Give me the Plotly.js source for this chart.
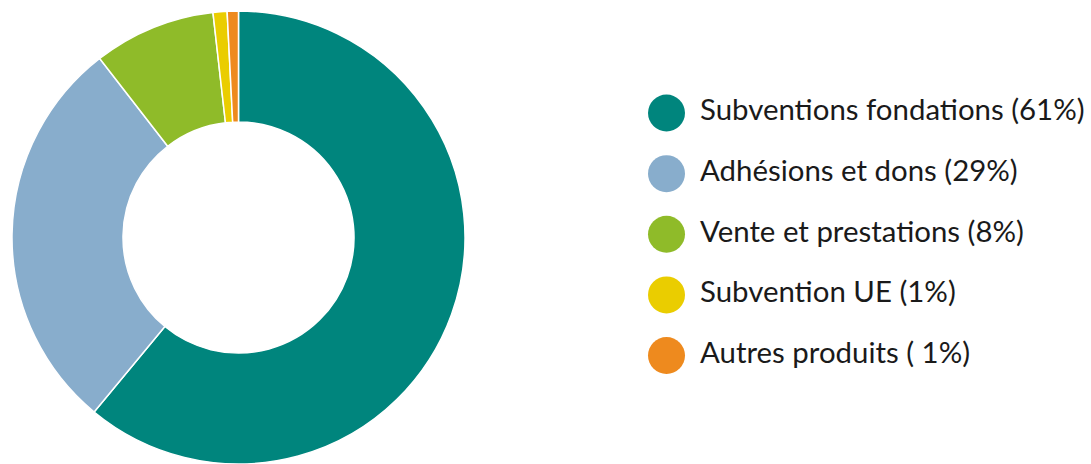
<!DOCTYPE html>
<html>
<head>
<meta charset="utf-8">
<script src="https://cdn.plot.ly/plotly-3.0.1.min.js"></script>
<style>
  html, body { margin: 0; padding: 0; background: #fff; }
  #chart { width: 1091px; height: 464px; }
</style>
</head>
<body>
<div id="chart"></div>
<script>
// Data
var categories = ["Subventions fondations", "Adhésions et dons", "Vente et prestations", "Subvention UE", "Autres produits"];
var values = [61.0, 28.5, 8.7, 1.0, 0.8];
var legendLabels = ["Subventions fondations (61%)", "Adhésions et dons (29%)", "Vente et prestations (8%)", "Subvention UE (1%)", "Autres produits ( 1%)"];
var colors = ["#00857d", "#88adcc", "#8fbb29", "#eacd00", "#ee8a1e"];

var W = 1091, H = 464;
var idx = categories.map(function (_, i) { return i; });

var pie = {
  type: "pie",
  labels: categories,
  values: values,
  sort: false,
  direction: "clockwise",
  rotation: 0,
  hole: 0.51,
  textinfo: "none",
  hoverinfo: "label+percent",
  marker: { colors: colors, line: { color: "#ffffff", width: 1.5 } },
  domain: { x: [12 / W, 465 / W], y: [0, 1] },
  showlegend: false
};

// Custom legend drawn as circle markers + text labels
var legendMarkers = {
  type: "scatter",
  mode: "markers",
  x: idx.map(function () { return 0; }),
  y: idx,
  xaxis: "x",
  yaxis: "y",
  marker: { size: 37, color: colors, line: { width: 0 } },
  hoverinfo: "skip",
  showlegend: false,
  cliponaxis: false
};
var textOffset = 33.5;
var legendText = {
  type: "scatter",
  mode: "text",
  x: idx.map(function () { return textOffset; }),
  y: idx,
  text: legendLabels,
  textposition: "middle right",
  textfont: { family: "Lato, 'Open Sans', sans-serif", size: 29.4, color: "#1a1a1a" },
  xaxis: "x",
  yaxis: "y",
  hoverinfo: "skip",
  showlegend: false,
  cliponaxis: false
};

var layout = {
  width: W,
  height: H,
  margin: { l: 0, r: 0, t: 11, b: 0 },
  paper_bgcolor: "#ffffff",
  plot_bgcolor: "rgba(0,0,0,0)",
  showlegend: false,
  xaxis: { domain: [666.5 / W, 1], range: [0, W - 666.5], visible: false, fixedrange: true },
  yaxis: { domain: [0.1726, 0.8417], range: [4.5, -0.5], visible: false, fixedrange: true }
};

Plotly.newPlot("chart", [pie, legendMarkers, legendText], layout, { displayModeBar: false, staticPlot: true });
</script>
</body>
</html>
